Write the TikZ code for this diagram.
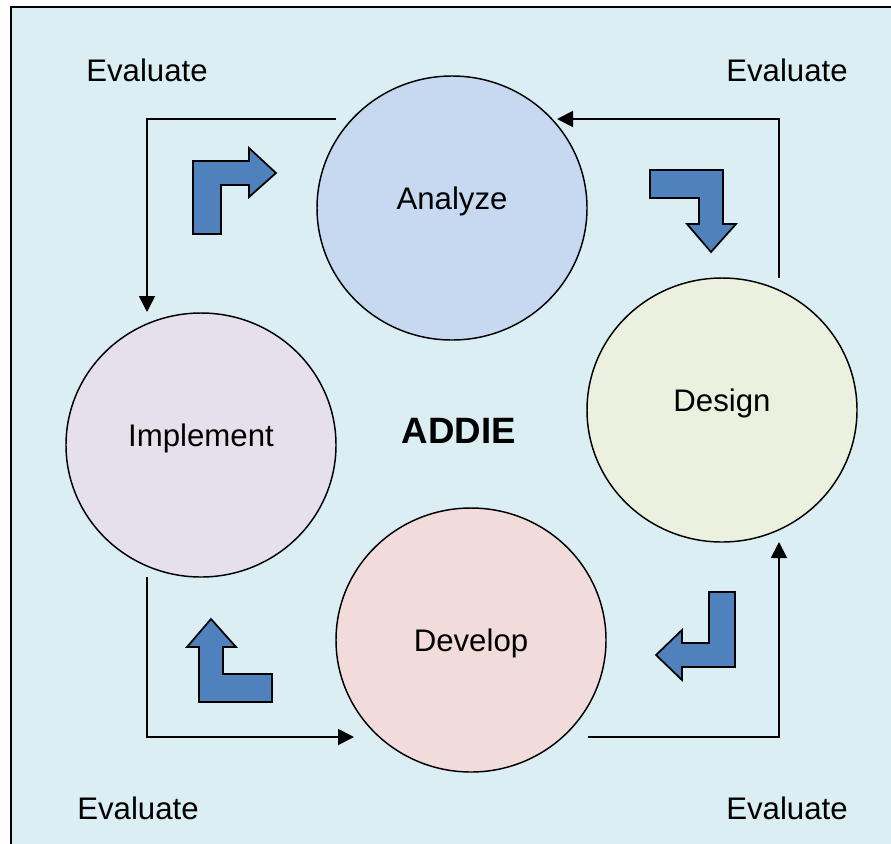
\documentclass[tikz,border=0pt]{standalone}
\usepackage{fontspec}
\setmainfont{Liberation Sans}
\usetikzlibrary{shapes.geometric,arrows.meta}
\definecolor{bgc}{HTML}{DBEEF4}
\definecolor{anac}{HTML}{C6D9F0}
\definecolor{desc}{HTML}{EBF1DE}
\definecolor{impc}{HTML}{E5E0EC}
\definecolor{devc}{HTML}{F2DCDB}
\definecolor{arrc}{HTML}{4F81BD}
\tikzset{
  phase/.style={ellipse, draw=black, line width=1.1pt, inner sep=0pt,
    minimum width=202.5pt, minimum height=198pt,
    font=\fontsize{23.4}{28}\selectfont},
  evallabel/.style={font=\fontsize{23.4}{28}\selectfont, inner sep=0pt},
  conn/.style={draw=black, line width=1.4pt, -{Triangle[length=12pt,width=12pt]}},
  bent/.style={draw=black, line width=1.3pt, fill=arrc, line join=miter}
}
\begin{document}
\begin{tikzpicture}[x=0.75pt,y=-0.75pt]
\useasboundingbox (0,0) rectangle (891,843);
\begin{scope}
\clip (0,0) rectangle (891,843);
\fill[white] (0,0) rectangle (891,843);
\draw[fill=bgc, line width=1.6pt] (11,7) rectangle (905,860);
\end{scope}

% circles
\node[phase, fill=anac] (analyze) at (452,208) {};
\node[phase, fill=desc] (design) at (722,410) {};
\node[phase, fill=impc] (implement) at (201,445) {};
\node[phase, fill=devc] (develop) at (471,640) {};
\node[evallabel] (tA) at (452,201) {Analyze};
\node[evallabel] (tD) at (722,403) {Design};
\node[evallabel] (tI) at (201,438) {Implement};
\node[evallabel] (tV) at (471,643) {Develop};
\node[font=\fontsize{27.5}{32}\selectfont\bfseries, inner sep=0pt] (addie) at (459,431) {ADDIE};

% evaluate labels
\node[evallabel] (e1) at (147,70) {Evaluate};
\node[evallabel] (e2) at (787,70) {Evaluate};
\node[evallabel] (e3) at (138,808) {Evaluate};
\node[evallabel] (e4) at (787,808) {Evaluate};

% connector endpoints
\coordinate (tls) at (336,119);
\coordinate (tle) at (147,312);
\coordinate (trs) at (779,278);
\coordinate (tre) at (557,119);
\coordinate (brs) at (588,737);
\coordinate (bre) at (779,542);
\coordinate (bls) at (147,577);
\coordinate (ble) at (354,737);
\draw[conn] (tls) -| (tle);
\draw[conn] (trs) |- (tre);
\draw[conn] (brs) -| (bre);
\draw[conn] (bls) |- (ble);

% bent block arrows
\draw[bent] (193,234) -- (193,161) -- (249,161) -- (249,148) -- (276,173) -- (249,197) -- (249,185) -- (221,185) -- (221,234) -- cycle;
\draw[bent] (650,170) -- (723,170) -- (723,224) -- (736,224) -- (711,252) -- (687,224) -- (699,224) -- (699,198) -- (650,198) -- cycle;
\draw[bent] (709,592) -- (735,592) -- (735,667) -- (682,667) -- (682,680) -- (656,655) -- (682,630) -- (682,643) -- (709,643) -- cycle;
\draw[bent] (199,702) -- (199,647) -- (187,647) -- (211,619) -- (236,647) -- (223,647) -- (223,674) -- (272,674) -- (272,702) -- cycle;
\end{tikzpicture}
\end{document}
